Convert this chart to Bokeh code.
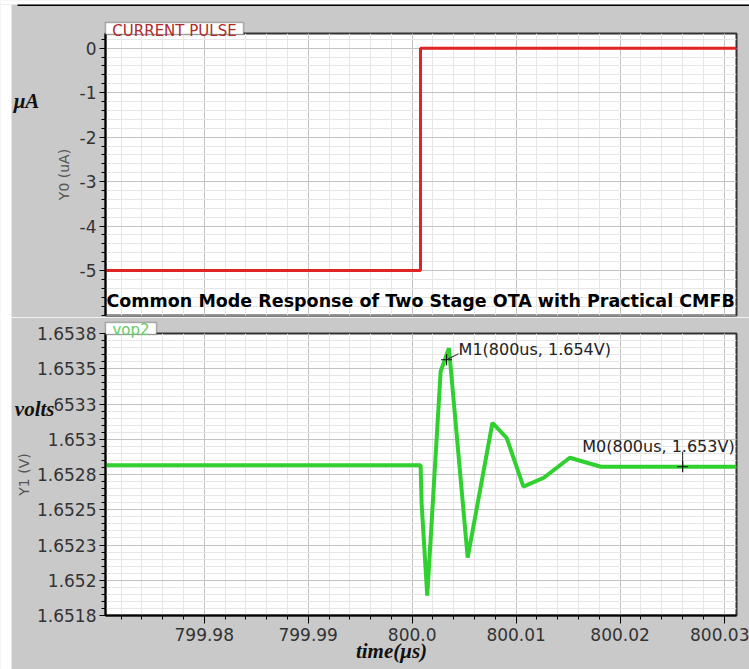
from bokeh.plotting import figure
from bokeh.layouts import column
from bokeh.models import FixedTicker, Label, Range1d, BoxAnnotation
from bokeh.embed import file_html
from bokeh.resources import INLINE

# ---------------- data ----------------
TITLE = "Common Mode Response of Two Stage OTA with Practical CMFB"

# top trace: current pulse (uA)
TIME_I = [799.9705, 800.0008, 800.0008, 800.0312]
CURRENT_UA = [-5.0, -5.0, 0.0, 0.0]

# bottom trace: vop2 (V)
TIME_V = [799.9705, 800.00081, 800.00091, 800.00145, 800.00274, 800.00354,
          800.00534, 800.00772, 800.00909, 800.01070, 800.01266, 800.01516,
          800.01815, 800.0312]
VOP2 = [1.652866, 1.652866, 1.652592, 1.651941, 1.653531, 1.653696,
        1.652210, 1.653166, 1.653060, 1.652714, 1.652777, 1.652919,
        1.652855, 1.652855]

# markers
M_NAMES = ["M1", "M0"]
M_TIME = [800.00331, 800.02602]
M_VAL = [1.653614, 1.652855]
M_TEXT = ["M1(800us, 1.654V)", "M0(800us, 1.653V)"]

# ticks
X_TICKS = [799.98, 799.99, 800.0, 800.01, 800.02, 800.03]
X_TICK_LABELS = ["799.98", "799.99", "800.0", "800.01", "800.02", "800.03"]
Y0_TICKS = [0, -1, -2, -3, -4, -5]
Y0_TICK_LABELS = ["0", "-1", "-2", "-3", "-4", "-5"]
Y1_TICKS = [1.6518, 1.65205, 1.6523, 1.65255, 1.6528, 1.65305, 1.6533, 1.65355, 1.6538]
Y1_TICK_LABELS = ["1.6518", "1.652", "1.6523", "1.6525", "1.6528", "1.653",
                  "1.6533", "1.6535", "1.6538"]

X0, X1 = 799.9705, 800.0312
Y0_RANGE = (-6.01, 0.33)
Y1_RANGE = (1.6518, 1.6538)

# ---------------- style ----------------
GREY = "#c9c9c9"
W, H = 749, 669
FRAME_W = 631
FRAME_H = 282
TICK_FONT = "DejaVu Sans"
SERIF = "Liberation Serif"

x_minor = [round(799.97 + 0.002 * k, 6) for k in range(0, 32)]
x_minor = [v for v in x_minor if X0 <= v <= X1]
y0_minor = [round(-6.0 + 0.2 * k, 6) for k in range(0, 33)]
y1_minor = [round(1.6518 + 0.00005 * k, 7) for k in range(0, 41)]


def style_common(p):
    p.background_fill_color = "white"
    p.border_fill_color = GREY
    p.outline_line_color = "#333333"
    p.outline_line_width = 2
    for g in (p.xgrid[0], p.ygrid[0]):
        g.grid_line_color = "#c2c2c2"
        g.grid_line_width = 1
        g.minor_grid_line_color = "#e6e6e6"
        g.minor_grid_line_width = 1
    for ax in (p.xaxis[0], p.yaxis[0]):
        ax.axis_line_color = "black"
        ax.axis_line_width = 2
        ax.major_tick_line_color = "black"
        ax.minor_tick_line_color = "black"
        ax.major_tick_line_width = 1
        ax.minor_tick_line_width = 1
        ax.major_tick_in = 0
        ax.minor_tick_in = 0
        ax.minor_tick_out = 4
        ax.major_label_text_font = TICK_FONT
        ax.major_label_text_font_size = "17px"
        ax.major_label_text_color = "#333333"
        ax.axis_label_text_font = TICK_FONT
        ax.axis_label_text_font_size = "14px"
        ax.axis_label_text_font_style = "normal"
        ax.axis_label_text_color = "#555555"
    p.xaxis[0].major_tick_out = 8
    p.xaxis[0].major_label_standoff = 4
    p.yaxis[0].major_tick_out = 6
    p.yaxis[0].major_label_standoff = 3
    p.yaxis[0].axis_label_standoff = 5


# ---------------- top plot ----------------
top = figure(width=W, height=317, x_range=Range1d(X0, X1),
             y_range=Range1d(*Y0_RANGE), output_backend="svg",
             toolbar_location=None, title=None,
             min_border_left=105, min_border_right=13,
             min_border_top=33, min_border_bottom=2)
xt = FixedTicker(ticks=X_TICKS, minor_ticks=x_minor)
yt0 = FixedTicker(ticks=Y0_TICKS, minor_ticks=y0_minor)
top.xaxis[0].ticker = xt
top.xgrid[0].ticker = xt
top.yaxis[0].ticker = yt0
top.ygrid[0].ticker = yt0
style_common(top)
top.xaxis.visible = False
top.yaxis[0].axis_label = "Y0 (uA)"
top.yaxis[0].major_label_overrides = {t: l for t, l in zip(Y0_TICKS, Y0_TICK_LABELS)}

top.line(TIME_I, CURRENT_UA, line_color="#e02323", line_width=3)

sx_top = (X1 - X0) / FRAME_W
sy_top = (Y0_RANGE[1] - Y0_RANGE[0]) / FRAME_H

top.add_layout(Label(x=X0 + 1 * sx_top, y=-5.0 - 30 * sy_top, text=TITLE,
                     text_font=TICK_FONT, text_font_size="17.5px",
                     text_font_style="bold",
                     text_color="black", text_align="left",
                     text_baseline="middle"))

# ---------------- bottom plot ----------------
bot = figure(width=W, height=352, x_range=top.x_range,
             y_range=Range1d(*Y1_RANGE), output_backend="svg",
             toolbar_location=None, title=None,
             min_border_left=105, min_border_right=13,
             min_border_top=16, min_border_bottom=54)
yt1 = FixedTicker(ticks=Y1_TICKS, minor_ticks=y1_minor)
bot.xaxis[0].ticker = xt
bot.xgrid[0].ticker = xt
bot.yaxis[0].ticker = yt1
bot.ygrid[0].ticker = yt1
style_common(bot)
bot.yaxis[0].axis_label_standoff = 2
bot.xaxis[0].major_label_overrides = {t: l for t, l in zip(X_TICKS, X_TICK_LABELS)}
bot.yaxis[0].major_label_overrides = {t: l for t, l in zip(Y1_TICKS, Y1_TICK_LABELS)}
bot.yaxis[0].axis_label = "Y1 (V)"

bot.line(TIME_V, VOP2, line_color="#2fd02f", line_width=4)

sx = (X1 - X0) / FRAME_W
sy = (Y1_RANGE[1] - Y1_RANGE[0]) / FRAME_H

# marker leaders
bot.segment(x0=[M_TIME[0], M_TIME[1]], y0=[M_VAL[0], M_VAL[1]],
            x1=[M_TIME[0] + 12 * sx, M_TIME[1]],
            y1=[M_VAL[0] + 6 * sy, M_VAL[1] + 15 * sy],
            line_color="#222222", line_width=1)
bot.scatter(M_TIME, M_VAL, marker="cross", size=11, line_color="#111111",
            line_width=1.2)
bot.add_layout(Label(x=M_TIME[0] + 12 * sx, y=M_VAL[0] + 10 * sy, text=M_TEXT[0],
                     text_font=TICK_FONT, text_font_size="16px",
                     text_color="#222222", text_align="left",
                     text_baseline="middle"))
bot.add_layout(Label(x=M_TIME[1] + 52 * sx, y=M_VAL[1] + 20 * sy, text=M_TEXT[1],
                     text_font=TICK_FONT, text_font_size="16px",
                     text_color="#222222", text_align="right",
                     text_baseline="middle"))

# ---------------- overlay for texts outside the plot frames ----------------
ov = figure(width=W, height=H, x_range=Range1d(0, W), y_range=Range1d(H, 0),
            x_axis_type=None, y_axis_type=None, output_backend="svg",
            toolbar_location=None, title=None, min_border=0,
            background_fill_alpha=0, border_fill_alpha=0,
            outline_line_color=None)
ov.styles = {"position": "absolute", "left": "0px", "top": "0px"}

# page edge: white strip and black rule
ov.add_layout(BoxAnnotation(left=0, right=11, top=4, bottom=H,
                            fill_color="white", fill_alpha=1, line_color=None))
ov.add_layout(BoxAnnotation(left=0, right=W, top=0, bottom=4,
                            fill_color="white", fill_alpha=1, line_color=None))
ov.add_layout(BoxAnnotation(left=17, right=W, top=4, bottom=5.5,
                            fill_color="black", fill_alpha=1, line_color=None))

# tabs
ov.add_layout(BoxAnnotation(left=105, right=243, top=22, bottom=34,
                            fill_color="white", fill_alpha=1,
                            line_color="#222222", line_width=1.5))
ov.add_layout(Label(x=174, y=30, text="CURRENT PULSE",
                    text_font=TICK_FONT, text_font_size="15px",
                    text_color="#b02a2a", text_align="center",
                    text_baseline="middle"))
ov.add_layout(BoxAnnotation(left=105, right=156, top=322, bottom=334,
                            fill_color="white", fill_alpha=1,
                            line_color="#222222", line_width=1.5))
ov.add_layout(Label(x=130.5, y=329, text="vop2",
                    text_font=TICK_FONT, text_font_size="15px",
                    text_color="#66cc66", text_align="center",
                    text_baseline="middle"))

# free texts
ov.add_layout(Label(x=26, y=100, text="\u03bcA",
                    text_font=SERIF, text_font_size="21px",
                    text_font_style="bold italic",
                    text_color="#111111", text_align="center",
                    text_baseline="middle"))
ov.add_layout(Label(x=54, y=408, text="volts",
                    text_font=SERIF, text_font_size="21px",
                    text_font_style="bold italic",
                    text_color="#111111", text_align="right",
                    text_baseline="middle",
                    background_fill_color=GREY, padding=0))
ov.add_layout(Label(x=391, y=650, text="time(\u03bcs)",
                    text_font=SERIF, text_font_size="21px",
                    text_font_style="bold italic",
                    text_color="#111111", text_align="center",
                    text_baseline="middle"))

layout = column(top, bot, spacing=0)
open("out.html", "w").write(file_html([layout, ov], INLINE))
